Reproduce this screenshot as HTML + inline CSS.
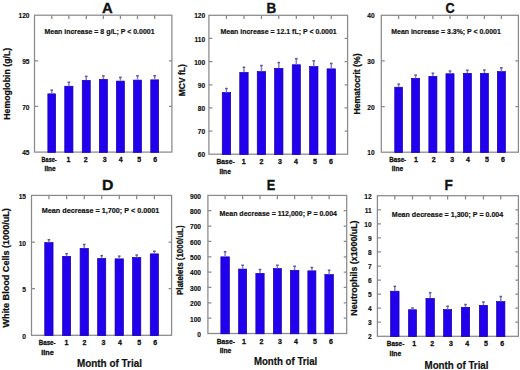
<!DOCTYPE html>
<html><head><meta charset="utf-8"><style>
html,body{margin:0;padding:0;background:#fff;}
body{width:520px;height:370px;overflow:hidden;}
svg{display:block;}
text{font-family:"Liberation Sans",sans-serif;font-weight:bold;fill:#111;}
.bar{fill:#2200ee;stroke:#1400a8;stroke-width:0.7;}
.err{fill:none;stroke:#8080cc;stroke-width:1.5;}
.cap{fill:#5c5c88;}
.ax{fill:none;stroke:#8a8a8e;stroke-width:1.25;}
.yl{font-size:6.6px;text-anchor:end;stroke:#111;stroke-width:0.15px;}
.lt{font-size:15.4px;stroke:#111;stroke-width:0.35px;}
.st{font-size:7.2px;stroke:#111;stroke-width:0.18px;}
.xl{font-size:7px;stroke:#111;stroke-width:0.3px;}
.xd{font-size:7px;text-anchor:middle;stroke:#111;stroke-width:0.3px;}
.yt{font-size:8.75px;stroke:#111;stroke-width:0.25px;}
.mt{font-size:10.8px;stroke:#111;stroke-width:0.2px;}
</style></head><body>
<svg width="520" height="370" viewBox="0 0 520 370">
<rect width="520" height="370" fill="#fff"/>
<rect x="34.5" y="15.2" width="137.4" height="136.9" class="ax"/>
<rect x="47.85" y="93.85" width="7.8" height="58.55" class="bar"/>
<path d="M51.75 93.5V90.4" class="err"/>
<rect x="50.45" y="89.4" width="2.6" height="1.5" class="cap"/>
<rect x="64.75" y="86.25" width="8.2" height="66.15" class="bar"/>
<path d="M68.85 85.9V82.5" class="err"/>
<rect x="67.55" y="81.5" width="2.6" height="1.5" class="cap"/>
<rect x="82.25" y="80.35" width="8" height="72.05" class="bar"/>
<path d="M86.25 80V76.6" class="err"/>
<rect x="84.95" y="75.6" width="2.6" height="1.5" class="cap"/>
<rect x="99.35" y="79.35" width="8.05" height="73.05" class="bar"/>
<path d="M103.38 79V76.1" class="err"/>
<rect x="102.08" y="75.1" width="2.6" height="1.5" class="cap"/>
<rect x="116.35" y="81.1" width="8.05" height="71.3" class="bar"/>
<path d="M120.38 80.75V77.6" class="err"/>
<rect x="119.08" y="76.6" width="2.6" height="1.5" class="cap"/>
<rect x="133.45" y="80.1" width="8.1" height="72.3" class="bar"/>
<path d="M137.5 79.75V76" class="err"/>
<rect x="136.2" y="75" width="2.6" height="1.5" class="cap"/>
<rect x="150.75" y="79.85" width="7.9" height="72.55" class="bar"/>
<path d="M154.7 79.5V76" class="err"/>
<rect x="153.4" y="75" width="2.6" height="1.5" class="cap"/>
<path d="M51.75 15.2v3.8M68.85 15.2v3.8M86.25 15.2v3.8M103.38 15.2v3.8M120.38 15.2v3.8M137.5 15.2v3.8M154.7 15.2v3.8M34.5 60.83h3.5M171.9 60.83h-3M34.5 106.47h3.5M171.9 106.47h-3" class="ax"/>
<text x="29.5" y="18.35" class="yl">120</text>
<text x="29.5" y="63.98" class="yl">95</text>
<text x="29.5" y="109.62" class="yl">70</text>
<text x="29.5" y="155.25" class="yl">45</text>
<text transform="translate(101.93 12.5) scale(0.968 1)" class="lt">A</text>
<text x="44.5" y="34.2" class="st" textLength="110" lengthAdjust="spacingAndGlyphs">Mean increase = 8 g/L; P &lt; 0.0001</text>
<text x="41.6" y="161.9" class="xl" textLength="15" lengthAdjust="spacingAndGlyphs">Base-</text>
<text x="44.4" y="171.2" class="xl" textLength="11.2" lengthAdjust="spacingAndGlyphs">line</text>
<text x="68.5" y="161.9" class="xd">1</text>
<text x="85.75" y="161.9" class="xd">2</text>
<text x="104.7" y="161.9" class="xd">3</text>
<text x="120.6" y="161.9" class="xd">4</text>
<text x="139.1" y="161.9" class="xd">5</text>
<text x="155.2" y="161.9" class="xd">6</text>
<text transform="translate(10.3 119.7) rotate(-90)" class="yt" textLength="71.9" lengthAdjust="spacingAndGlyphs">Hemoglobin (g/L)</text>
<rect x="208.9" y="15.3" width="138.7" height="138.9" class="ax"/>
<rect x="222.25" y="92.6" width="8.4" height="61.9" class="bar"/>
<path d="M226.45 92.25V88.75" class="err"/>
<rect x="225.15" y="87.75" width="2.6" height="1.5" class="cap"/>
<rect x="239.75" y="72.45" width="8.4" height="82.05" class="bar"/>
<path d="M243.95 72.1V67.5" class="err"/>
<rect x="242.65" y="66.5" width="2.6" height="1.5" class="cap"/>
<rect x="257.25" y="71.6" width="8.4" height="82.9" class="bar"/>
<path d="M261.45 71.25V65.75" class="err"/>
<rect x="260.15" y="64.75" width="2.6" height="1.5" class="cap"/>
<rect x="274.65" y="68.35" width="8.3" height="86.15" class="bar"/>
<path d="M278.8 68V62.8" class="err"/>
<rect x="277.5" y="61.8" width="2.6" height="1.5" class="cap"/>
<rect x="292.25" y="64.75" width="8.1" height="89.75" class="bar"/>
<path d="M296.3 64.4V58.9" class="err"/>
<rect x="295" y="57.9" width="2.6" height="1.5" class="cap"/>
<rect x="309.55" y="66.55" width="8.4" height="87.95" class="bar"/>
<path d="M313.75 66.2V61.1" class="err"/>
<rect x="312.45" y="60.1" width="2.6" height="1.5" class="cap"/>
<rect x="327.05" y="68.85" width="8.5" height="85.65" class="bar"/>
<path d="M331.3 68.5V63.7" class="err"/>
<rect x="330" y="62.7" width="2.6" height="1.5" class="cap"/>
<path d="M226.45 15.3v3.8M243.95 15.3v3.8M261.45 15.3v3.8M278.8 15.3v3.8M296.3 15.3v3.8M313.75 15.3v3.8M331.3 15.3v3.8M208.9 38.45h3.5M347.6 38.45h-3M208.9 61.6h3.5M347.6 61.6h-3M208.9 84.75h3.5M347.6 84.75h-3M208.9 107.9h3.5M347.6 107.9h-3M208.9 131.05h3.5M347.6 131.05h-3" class="ax"/>
<text x="205.2" y="18.45" class="yl">120</text>
<text x="205.2" y="41.6" class="yl">110</text>
<text x="205.2" y="64.75" class="yl">100</text>
<text x="205.2" y="87.9" class="yl">90</text>
<text x="205.2" y="111.05" class="yl">80</text>
<text x="205.2" y="134.2" class="yl">70</text>
<text x="205.2" y="157.35" class="yl">60</text>
<text transform="translate(266.4 12.5) scale(0.873 1)" class="lt">B</text>
<text x="220.5" y="33.9" class="st" textLength="116.25" lengthAdjust="spacingAndGlyphs">Mean increase = 12.1 fL; P &lt; 0.0001</text>
<text x="216.5" y="164.1" class="xl" textLength="18.1" lengthAdjust="spacingAndGlyphs">Base-</text>
<text x="219.4" y="173.6" class="xl" textLength="11.5" lengthAdjust="spacingAndGlyphs">line</text>
<text x="243.8" y="164.1" class="xd">1</text>
<text x="261.35" y="164.1" class="xd">2</text>
<text x="280" y="164.1" class="xd">3</text>
<text x="296" y="164.1" class="xd">4</text>
<text x="314.9" y="164.1" class="xd">5</text>
<text x="331" y="164.1" class="xd">6</text>
<text transform="translate(185.3 96.2) rotate(-90)" class="yt" textLength="32" lengthAdjust="spacingAndGlyphs">MCV fL)</text>
<rect x="381.3" y="15.3" width="137.1" height="136.9" class="ax"/>
<rect x="394.75" y="87.25" width="7.8" height="65.25" class="bar"/>
<path d="M398.65 86.9V84.4" class="err"/>
<rect x="397.35" y="83.4" width="2.6" height="1.5" class="cap"/>
<rect x="411.6" y="78.45" width="8.05" height="74.05" class="bar"/>
<path d="M415.62 78.1V75.4" class="err"/>
<rect x="414.32" y="74.4" width="2.6" height="1.5" class="cap"/>
<rect x="428.85" y="76.35" width="8.05" height="76.15" class="bar"/>
<path d="M432.88 76V73.5" class="err"/>
<rect x="431.57" y="72.5" width="2.6" height="1.5" class="cap"/>
<rect x="445.95" y="73.75" width="8.1" height="78.75" class="bar"/>
<path d="M450 73.4V71.3" class="err"/>
<rect x="448.7" y="70.3" width="2.6" height="1.5" class="cap"/>
<rect x="463.35" y="73.35" width="8.05" height="79.15" class="bar"/>
<path d="M467.38 73V70.5" class="err"/>
<rect x="466.07" y="69.5" width="2.6" height="1.5" class="cap"/>
<rect x="480.35" y="73.35" width="8.05" height="79.15" class="bar"/>
<path d="M484.38 73V70.25" class="err"/>
<rect x="483.07" y="69.25" width="2.6" height="1.5" class="cap"/>
<rect x="497.35" y="71.6" width="8.05" height="80.9" class="bar"/>
<path d="M501.38 71.25V68" class="err"/>
<rect x="500.07" y="67" width="2.6" height="1.5" class="cap"/>
<path d="M398.65 15.3v3.8M415.62 15.3v3.8M432.88 15.3v3.8M450 15.3v3.8M467.38 15.3v3.8M484.38 15.3v3.8M501.38 15.3v3.8M381.3 60.93h3.5M518.4 60.93h-3M381.3 106.57h3.5M518.4 106.57h-3" class="ax"/>
<text x="374.6" y="18.45" class="yl">40</text>
<text x="374.6" y="64.08" class="yl">30</text>
<text x="374.6" y="109.72" class="yl">20</text>
<text x="374.6" y="155.35" class="yl">10</text>
<text transform="translate(445.48 12.5) scale(0.824 1)" class="lt">C</text>
<text x="391.25" y="34.2" class="st" textLength="109.5" lengthAdjust="spacingAndGlyphs">Mean increase = 3.3%; P &lt; 0.0001</text>
<text x="389.2" y="161.5" class="xl" textLength="17" lengthAdjust="spacingAndGlyphs">Base-</text>
<text x="391.8" y="170.9" class="xl" textLength="11.3" lengthAdjust="spacingAndGlyphs">line</text>
<text x="416" y="161.5" class="xd">1</text>
<text x="433.65" y="161.5" class="xd">2</text>
<text x="452.1" y="161.5" class="xd">3</text>
<text x="467.9" y="161.5" class="xd">4</text>
<text x="486.9" y="161.5" class="xd">5</text>
<text x="502.85" y="161.5" class="xd">6</text>
<text transform="translate(360.3 114.6) rotate(-90)" class="yt" textLength="61.2" lengthAdjust="spacingAndGlyphs">Hematocrit (%)</text>
<rect x="31.5" y="195.4" width="140.1" height="139.9" class="ax"/>
<rect x="44.75" y="242.6" width="8.3" height="93" class="bar"/>
<path d="M48.9 242.25V240" class="err"/>
<rect x="47.6" y="239" width="2.6" height="1.5" class="cap"/>
<rect x="62.6" y="256.35" width="8.05" height="79.25" class="bar"/>
<path d="M66.62 256V253.9" class="err"/>
<rect x="65.33" y="252.9" width="2.6" height="1.5" class="cap"/>
<rect x="80.1" y="248.45" width="8.3" height="87.15" class="bar"/>
<path d="M84.25 248.1V244.75" class="err"/>
<rect x="82.95" y="243.75" width="2.6" height="1.5" class="cap"/>
<rect x="97.65" y="258.5" width="8.1" height="77.1" class="bar"/>
<path d="M101.7 258.15V255.9" class="err"/>
<rect x="100.4" y="254.9" width="2.6" height="1.5" class="cap"/>
<rect x="115.05" y="258.85" width="8.4" height="76.75" class="bar"/>
<path d="M119.25 258.5V256.4" class="err"/>
<rect x="117.95" y="255.4" width="2.6" height="1.5" class="cap"/>
<rect x="132.55" y="257.55" width="8.25" height="78.05" class="bar"/>
<path d="M136.68 257.2V255.3" class="err"/>
<rect x="135.38" y="254.3" width="2.6" height="1.5" class="cap"/>
<rect x="150.25" y="253.85" width="8.2" height="81.75" class="bar"/>
<path d="M154.35 253.5V251.5" class="err"/>
<rect x="153.05" y="250.5" width="2.6" height="1.5" class="cap"/>
<path d="M48.9 195.4v3.8M66.62 195.4v3.8M84.25 195.4v3.8M101.7 195.4v3.8M119.25 195.4v3.8M136.68 195.4v3.8M154.35 195.4v3.8M31.5 242.03h3.5M171.6 242.03h-3M31.5 288.67h3.5M171.6 288.67h-3" class="ax"/>
<text x="26" y="198.95" class="yl">15</text>
<text x="26" y="245.58" class="yl">10</text>
<text x="26" y="292.22" class="yl">5</text>
<text x="26" y="338.85" class="yl">0</text>
<text transform="translate(101.94 190) scale(1.028 1)" class="lt">D</text>
<text x="41.75" y="212.9" class="st" textLength="117.5" lengthAdjust="spacingAndGlyphs">Mean decrease = 1,700; P &lt; 0.0001</text>
<text x="38.75" y="345.2" class="xl" textLength="16.85" lengthAdjust="spacingAndGlyphs">Base-</text>
<text x="41.25" y="354.75" class="xl" textLength="12.5" lengthAdjust="spacingAndGlyphs">line</text>
<text x="66.4" y="345.1" class="xd">1</text>
<text x="84.5" y="345.1" class="xd">2</text>
<text x="103.4" y="345.1" class="xd">3</text>
<text x="120" y="345.1" class="xd">4</text>
<text x="139.1" y="345.1" class="xd">5</text>
<text x="155.3" y="345.1" class="xd">6</text>
<text transform="translate(8.6 327.6) rotate(-90)" class="yt" textLength="119.5" lengthAdjust="spacingAndGlyphs">White Blood Cells (1000/uL)</text>
<rect x="207.9" y="195.4" width="138.8" height="138.1" class="ax"/>
<rect x="220.85" y="256.85" width="8.5" height="76.95" class="bar"/>
<path d="M225.1 256.5V252" class="err"/>
<rect x="223.8" y="251" width="2.6" height="1.5" class="cap"/>
<rect x="238.6" y="269.1" width="8.05" height="64.7" class="bar"/>
<path d="M242.62 268.75V265.5" class="err"/>
<rect x="241.32" y="264.5" width="2.6" height="1.5" class="cap"/>
<rect x="255.85" y="273.35" width="8.3" height="60.45" class="bar"/>
<path d="M260 273V269.75" class="err"/>
<rect x="258.7" y="268.75" width="2.6" height="1.5" class="cap"/>
<rect x="273.35" y="268.6" width="8.05" height="65.2" class="bar"/>
<path d="M277.38 268.25V265.5" class="err"/>
<rect x="276.07" y="264.5" width="2.6" height="1.5" class="cap"/>
<rect x="290.35" y="270.35" width="8.55" height="63.45" class="bar"/>
<path d="M294.62 270V266.5" class="err"/>
<rect x="293.32" y="265.5" width="2.6" height="1.5" class="cap"/>
<rect x="307.85" y="270.85" width="8.05" height="62.95" class="bar"/>
<path d="M311.88 270.5V267.75" class="err"/>
<rect x="310.57" y="266.75" width="2.6" height="1.5" class="cap"/>
<rect x="324.85" y="274.6" width="8.55" height="59.2" class="bar"/>
<path d="M329.12 274.25V270.5" class="err"/>
<rect x="327.82" y="269.5" width="2.6" height="1.5" class="cap"/>
<path d="M225.1 195.4v3.8M242.62 195.4v3.8M260 195.4v3.8M277.38 195.4v3.8M294.62 195.4v3.8M311.88 195.4v3.8M329.12 195.4v3.8M207.9 210.74h3.5M346.7 210.74h-3M207.9 226.09h3.5M346.7 226.09h-3M207.9 241.43h3.5M346.7 241.43h-3M207.9 256.78h3.5M346.7 256.78h-3M207.9 272.12h3.5M346.7 272.12h-3M207.9 287.47h3.5M346.7 287.47h-3M207.9 302.81h3.5M346.7 302.81h-3M207.9 318.16h3.5M346.7 318.16h-3" class="ax"/>
<text x="201" y="198.75" class="yl">900</text>
<text x="201" y="214.09" class="yl">800</text>
<text x="201" y="229.44" class="yl">700</text>
<text x="201" y="244.78" class="yl">600</text>
<text x="201" y="260.13" class="yl">500</text>
<text x="201" y="275.47" class="yl">400</text>
<text x="201" y="290.82" class="yl">300</text>
<text x="201" y="306.16" class="yl">200</text>
<text x="201" y="321.51" class="yl">100</text>
<text x="201" y="336.85" class="yl">0</text>
<text transform="translate(266.84 190) scale(0.833 1)" class="lt">E</text>
<text x="219.5" y="215.6" class="st" textLength="117.5" lengthAdjust="spacingAndGlyphs">Mean decrease = 112,000; P = 0.004</text>
<text x="216.7" y="343.7" class="xl" textLength="18.2" lengthAdjust="spacingAndGlyphs">Base-</text>
<text x="219.7" y="352.9" class="xl" textLength="11.6" lengthAdjust="spacingAndGlyphs">line</text>
<text x="244" y="343.5" class="xd">1</text>
<text x="261.35" y="343.5" class="xd">2</text>
<text x="280" y="343.5" class="xd">3</text>
<text x="295.9" y="343.5" class="xd">4</text>
<text x="314.9" y="343.5" class="xd">5</text>
<text x="331" y="343.5" class="xd">6</text>
<text transform="translate(183 295.1) rotate(-90)" class="yt" textLength="69.7" lengthAdjust="spacingAndGlyphs">Platelets (1000/uL)</text>
<rect x="377.4" y="195.7" width="141" height="140.6" class="ax"/>
<rect x="390.6" y="291.25" width="8.45" height="45.35" class="bar"/>
<path d="M394.82 290.9V286.6" class="err"/>
<rect x="393.52" y="285.6" width="2.6" height="1.5" class="cap"/>
<rect x="408.45" y="309.75" width="8.1" height="26.85" class="bar"/>
<path d="M412.5 309.4V308.25" class="err"/>
<rect x="411.2" y="307.25" width="2.6" height="1.5" class="cap"/>
<rect x="425.95" y="298.45" width="8.45" height="38.15" class="bar"/>
<path d="M430.18 298.1V292.9" class="err"/>
<rect x="428.88" y="291.9" width="2.6" height="1.5" class="cap"/>
<rect x="443.6" y="309.6" width="8.05" height="27" class="bar"/>
<path d="M447.62 309.25V306.5" class="err"/>
<rect x="446.32" y="305.5" width="2.6" height="1.5" class="cap"/>
<rect x="461.35" y="307.35" width="8.3" height="29.25" class="bar"/>
<path d="M465.5 307V304.75" class="err"/>
<rect x="464.2" y="303.75" width="2.6" height="1.5" class="cap"/>
<rect x="479.35" y="305.35" width="8.2" height="31.25" class="bar"/>
<path d="M483.45 305V302.25" class="err"/>
<rect x="482.15" y="301.25" width="2.6" height="1.5" class="cap"/>
<rect x="496.6" y="301.6" width="8.3" height="35" class="bar"/>
<path d="M500.75 301.25V296.75" class="err"/>
<rect x="499.45" y="295.75" width="2.6" height="1.5" class="cap"/>
<path d="M394.82 195.7v3.8M412.5 195.7v3.8M430.18 195.7v3.8M447.62 195.7v3.8M465.5 195.7v3.8M483.45 195.7v3.8M500.75 195.7v3.8M377.4 209.76h3.5M518.4 209.76h-3M377.4 223.82h3.5M518.4 223.82h-3M377.4 237.88h3.5M518.4 237.88h-3M377.4 251.94h3.5M518.4 251.94h-3M377.4 266h3.5M518.4 266h-3M377.4 280.06h3.5M518.4 280.06h-3M377.4 294.12h3.5M518.4 294.12h-3M377.4 308.18h3.5M518.4 308.18h-3M377.4 322.24h3.5M518.4 322.24h-3" class="ax"/>
<text x="371.7" y="198.55" class="yl">12</text>
<text x="371.7" y="212.61" class="yl">11</text>
<text x="371.7" y="226.67" class="yl">10</text>
<text x="371.7" y="240.73" class="yl">9</text>
<text x="371.7" y="254.79" class="yl">8</text>
<text x="371.7" y="268.85" class="yl">7</text>
<text x="371.7" y="282.91" class="yl">6</text>
<text x="371.7" y="296.97" class="yl">5</text>
<text x="371.7" y="311.03" class="yl">4</text>
<text x="371.7" y="325.09" class="yl">3</text>
<text x="371.7" y="339.15" class="yl">2</text>
<text transform="translate(444.49 190) scale(0.884 1)" class="lt">F</text>
<text x="391.75" y="217.3" class="st" textLength="111.5" lengthAdjust="spacingAndGlyphs">Mean decrease = 1,300; P = 0.004</text>
<text x="386.8" y="346.1" class="xl" textLength="17.5" lengthAdjust="spacingAndGlyphs">Base-</text>
<text x="389.5" y="356" class="xl" textLength="11.7" lengthAdjust="spacingAndGlyphs">line</text>
<text x="414.15" y="346.2" class="xd">1</text>
<text x="432.1" y="346.2" class="xd">2</text>
<text x="450.9" y="346.2" class="xd">3</text>
<text x="467.1" y="346.2" class="xd">4</text>
<text x="486" y="346.2" class="xd">5</text>
<text x="502.15" y="346.2" class="xd">6</text>
<text transform="translate(357 315.7) rotate(-90)" class="yt" textLength="95.2" lengthAdjust="spacingAndGlyphs">Neutrophils (x1000/uL)</text>
<text x="76.9" y="367.2" class="mt" textLength="65.1" lengthAdjust="spacingAndGlyphs">Month of Trial</text>
<text x="253.9" y="365.4" class="mt" textLength="63.4" lengthAdjust="spacingAndGlyphs">Month of Trial</text>
<text x="424.5" y="368.5" class="mt" textLength="64" lengthAdjust="spacingAndGlyphs">Month of Trial</text>
</svg>
</body></html>
